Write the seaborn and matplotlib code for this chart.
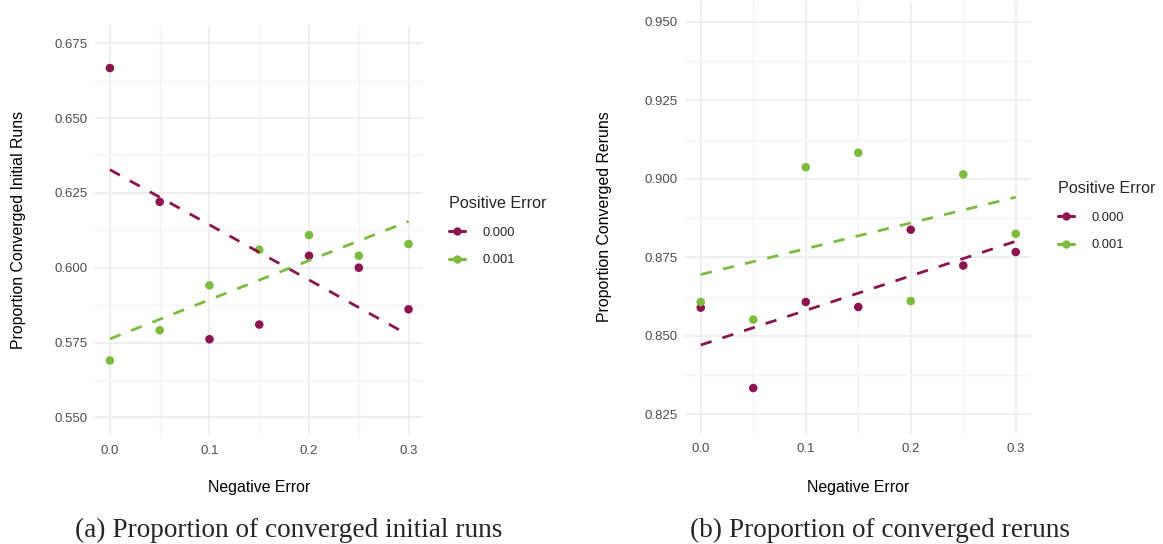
import numpy as np
import pandas as pd
import matplotlib
matplotlib.use("Agg")
import matplotlib.pyplot as plt
from matplotlib.lines import Line2D
from matplotlib.ticker import MultipleLocator, FixedLocator
import seaborn as sns

# ---- data -------------------------------------------------------------
neg_error = [0.00, 0.05, 0.10, 0.15, 0.20, 0.25, 0.30]
pos_levels = ["0.000", "0.001"]

initial_pos000 = [0.6667, 0.6220, 0.5761, 0.5810, 0.6040, 0.6000, 0.5861]
initial_pos001 = [0.5690, 0.5791, 0.5941, 0.6060, 0.6109, 0.6040, 0.6079]

rerun_pos000 = [0.8590, 0.8334, 0.8608, 0.8592, 0.8838, 0.8724, 0.8767]
rerun_pos001 = [0.8608, 0.8552, 0.9037, 0.9083, 0.8611, 0.9014, 0.8825]

initial_yticks = [0.550, 0.575, 0.600, 0.625, 0.650, 0.675]
rerun_yticks = [0.825, 0.850, 0.875, 0.900, 0.925, 0.950]
xticks = [0.0, 0.1, 0.2, 0.3]

captions = ["(a) Proportion of converged initial runs",
            "(b) Proportion of converged reruns"]
ylabels = ["Proportion Converged Initial Runs", "Proportion Converged Reruns"]


def long_frame(v0, v1):
    return pd.DataFrame({
        "Negative Error": neg_error * 2,
        "value": v0 + v1,
        "Positive Error": [pos_levels[0]] * len(v0) + [pos_levels[1]] * len(v1),
    })


df_initial = long_frame(initial_pos000, initial_pos001)
df_rerun = long_frame(rerun_pos000, rerun_pos001)

# ---- styling ----------------------------------------------------------
sns.set_theme(style="white")
plt.rcParams["font.family"] = ["Liberation Sans", "DejaVu Sans"]

palette = {"0.000": "#8C1550", "0.001": "#7DBB3F"}
grid_major = "#EBEBEB"
grid_minor = "#F3F3F3"
tick_color = "#4D4D4D"

W, H = 1163, 544
fig = plt.figure(figsize=(W / 100, H / 100), dpi=100)


def px_axes(x0, y0, x1, y1):
    return fig.add_axes([x0 / W, 1 - y1 / H, (x1 - x0) / W, (y1 - y0) / H])


ax_a = px_axes(95, 25, 423, 435)
ax_b = px_axes(685, 1, 1031, 433)

panels = [
    (ax_a, df_initial, initial_yticks, (0.5441, 0.6811), ylabels[0], (449, 196), -0.232, -0.129),
    (ax_b, df_rerun, rerun_yticks, (0.8191, 0.9566), ylabels[1], (1058, 181), -0.232, -0.127),
]

for ax, df, yt, ylim, ylab, leg_xy, ylab_x, xlab_y in panels:
    sns.scatterplot(data=df, x="Negative Error", y="value", hue="Positive Error",
                    palette=palette, s=38, edgecolor="none", legend=False,
                    ax=ax, zorder=3)
    for lvl in pos_levels:
        sub = df[df["Positive Error"] == lvl]
        sns.regplot(data=sub, x="Negative Error", y="value", scatter=False,
                    ci=None, color=palette[lvl], truncate=True, ax=ax,
                    line_kws=dict(lw=2.0, linestyle=(0, (4.1, 4.1)), zorder=4))

    ax.set_xlim(-0.015, 0.3145)
    ax.set_ylim(*ylim)
    ax.xaxis.set_major_locator(FixedLocator(xticks))
    ax.xaxis.set_minor_locator(MultipleLocator(0.05))
    ax.yaxis.set_major_locator(FixedLocator(yt))
    ax.yaxis.set_minor_locator(MultipleLocator(0.0125))
    ax.set_xticklabels([f"{v:.1f}" for v in xticks])
    ax.set_yticklabels([f"{v:.3f}" for v in yt])

    ax.grid(which="major", color=grid_major, lw=1.1)
    ax.grid(which="minor", color=grid_minor, lw=0.9)
    ax.set_axisbelow(True)
    for s in ax.spines.values():
        s.set_visible(False)
    ax.tick_params(which="both", length=0)
    ax.tick_params(axis="x", pad=7.0, labelsize=9.5, labelcolor=tick_color)
    ax.tick_params(axis="y", pad=5.5, labelsize=9.5, labelcolor=tick_color)

    ax.set_xlabel("Negative Error", fontsize=11.4, color="black")
    ax.set_ylabel(ylab, fontsize=11.4, color="black")
    ax.xaxis.set_label_coords(0.5, xlab_y)
    ax.xaxis.label.set_va("center")
    ax.yaxis.set_label_coords(ylab_x, 0.5)
    ax.yaxis.label.set_va("center")

    handles = [Line2D([0], [0], color=palette[l], lw=2.2, marker="o",
                      markersize=6.0, markeredgewidth=0) for l in pos_levels]
    fig.legend(handles, pos_levels, title="Positive Error",
               loc="upper left", bbox_to_anchor=(leg_xy[0] / W, 1 - leg_xy[1] / H),
               frameon=False, borderpad=0, borderaxespad=0,
               handlelength=1.2, handletextpad=1.4, labelspacing=1.2,
               fontsize=9.3, title_fontsize=11.6, alignment="left")

# ---- captions ---------------------------------------------------------
cap_y = 1 - 537 / H
fig.text(289 / W, cap_y, captions[0], ha="center", va="baseline",
         fontsize=19.6, family=["Liberation Serif", "DejaVu Serif"])
fig.text(880 / W, cap_y, captions[1], ha="center", va="baseline",
         fontsize=19.6, family=["Liberation Serif", "DejaVu Serif"])

fig.savefig("out.png", dpi=100, facecolor="white")
